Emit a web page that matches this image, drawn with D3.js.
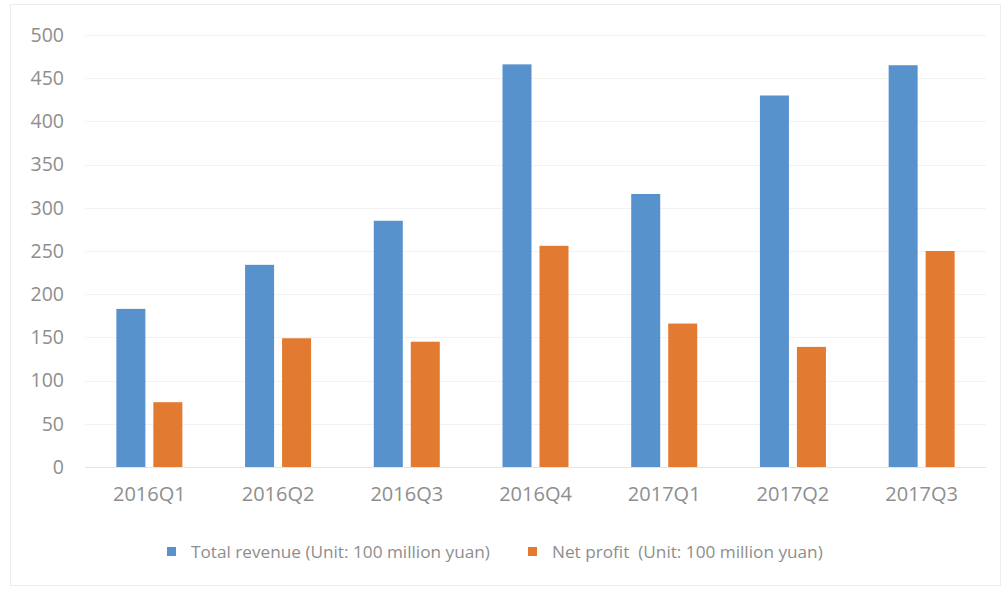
<!DOCTYPE html>
<html>
<head>
<meta charset="utf-8">
<script src="https://d3js.org/d3.v7.min.js"></script>
<style>
  html, body { margin: 0; padding: 0; background: #fff; }
  svg text { font-family: "Open Sans", "Noto Sans", sans-serif; fill: #8e8e8e; }
</style>
</head>
<body>
<svg id="chart" width="1003" height="590"></svg>
<script>
// Quarterly figures, unit: 100 million yuan
const quarters = ["2016Q1", "2016Q2", "2016Q3", "2016Q4", "2017Q1", "2017Q2", "2017Q3"];
const totalRevenue = [183, 234, 285, 466, 316, 430, 465];
const netProfit = [75, 149, 145, 256, 166, 139, 250];
const yTicks = [0, 50, 100, 150, 200, 250, 300, 350, 400, 450, 500];
const seriesNames = ["Total revenue (Unit: 100 million yuan)", "Net profit  (Unit: 100 million yuan)"];
const seriesColors = ["#5892cc", "#e37a32"];

const svg = d3.select("#chart");
const fontStack = '"Open Sans", "Noto Sans", sans-serif';

// outer frame
svg.append("rect")
  .attr("x", 10.5).attr("y", 4.5).attr("width", 990).attr("height", 581)
  .attr("fill", "#fff").attr("stroke", "#ececec");

const plotLeft = 85, plotRight = 986, plotTop = 35, plotBottom = 467;

const x = d3.scaleBand().domain(quarters).range([plotLeft, plotRight]).paddingInner(0).paddingOuter(0);
const inner = d3.scaleBand().domain([0, 1]).range([0, 66]).paddingInner(0.216);
const y = d3.scaleLinear().domain([0, 500]).range([plotBottom, plotTop]);

// gridlines
svg.append("g")
  .selectAll("line")
  .data(yTicks)
  .join("line")
  .attr("x1", plotLeft).attr("x2", plotRight)
  .attr("y1", d => Math.round(y(d)) + 0.5).attr("y2", d => Math.round(y(d)) + 0.5)
  .attr("stroke", d => d === 0 ? "#e4e4e4" : "#f2f2f2")
  .attr("stroke-width", 1);

// y axis labels
const yAxis = d3.axisLeft(y).tickValues(yTicks).tickSize(0).tickPadding(0);
const gy = svg.append("g").attr("transform", `translate(${plotLeft - 21},0)`).call(yAxis);
gy.select(".domain").remove();
gy.selectAll("text").attr("font-size", 19.5).style("fill", "#8e8e8e").style("font-family", fontStack);

// x axis labels
const xAxis = d3.axisBottom(x).tickSize(0).tickPadding(0);
const gx = svg.append("g").attr("transform", `translate(0,${plotBottom + 20})`).call(xAxis);
gx.select(".domain").remove();
gx.selectAll("text").attr("font-size", 20).style("fill", "#8e8e8e").style("font-family", fontStack);

// bars
const series = [totalRevenue, netProfit];
const groups = svg.append("g")
  .selectAll("g")
  .data(quarters)
  .join("g")
  .attr("transform", d => `translate(${x(d) + (x.bandwidth() - 66) / 2},0)`);

groups.selectAll("rect")
  .data((d, i) => series.map((s, k) => ({ k, v: s[i] })))
  .join("rect")
  .attr("x", d => inner(d.k))
  .attr("width", inner.bandwidth())
  .attr("y", d => y(d.v))
  .attr("height", d => y(0) - y(d.v))
  .attr("fill", d => seriesColors[d.k]);

// legend
const legendX = [167, 528];
const legend = svg.append("g")
  .selectAll("g")
  .data(seriesNames)
  .join("g")
  .attr("transform", (d, i) => `translate(${legendX[i]},547)`);
legend.append("rect")
  .attr("width", 9).attr("height", 9)
  .attr("fill", (d, i) => seriesColors[i]);
legend.append("text")
  .attr("x", 24).attr("y", 10.5)
  .attr("font-size", 17.2)
  .style("white-space", "pre")
  .text(d => d);
</script>
</body>
</html>
